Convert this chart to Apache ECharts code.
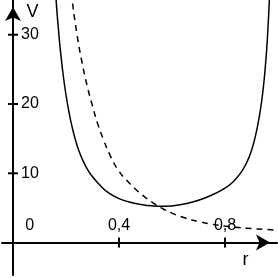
<!DOCTYPE html>
<html>
<head>
<meta charset="utf-8">
<script src="https://cdn.jsdelivr.net/npm/echarts@6/dist/echarts.min.js"></script>
<style>
  html, body { margin: 0; padding: 0; background: #fff; }
  #chart { width: 278px; height: 278px; }
</style>
</head>
<body>
<div id="chart"></div>
<script>
// ---- data ----
var rValues = [0.15, 0.16, 0.17, 0.18, 0.19, 0.20, 0.21, 0.22, 0.235, 0.25, 0.265, 0.28, 0.30, 0.33, 0.36, 0.40, 0.45, 0.50, 0.55, 0.60, 0.65, 0.70, 0.75, 0.80, 0.83, 0.86, 0.88, 0.90, 0.915, 0.93, 0.94, 0.95, 0.96, 0.97, 0.98];
var solidV  = [43.5, 36.5, 31.4, 27.3, 24.0, 21.3, 19.1, 17.2, 14.9, 13.1, 11.75, 10.65, 9.5, 8.2, 7.2, 6.35, 5.75, 5.4, 5.25, 5.3, 5.6, 6.1, 6.85, 7.85, 8.75, 10.1, 11.4, 13.3, 15.4, 18.3, 20.9, 24.4, 29.5, 37.5, 50];
var rDashed = [0.20, 0.21, 0.22, 0.24, 0.26, 0.28, 0.30, 0.32, 0.34, 0.37, 0.40, 0.43, 0.46, 0.50, 0.53, 0.56, 0.60, 0.65, 0.70, 0.75, 0.80, 0.85, 0.90, 0.95, 1.00];
var dashedV = [44, 39.5, 36.0, 30.4, 26.1, 22.6, 19.7, 17.1, 15.0, 12.3, 10.3, 8.95, 7.8, 6.5, 5.7, 5.0, 4.25, 3.55, 3.05, 2.66, 2.38, 2.17, 2.02, 1.9, 1.8];
var xTickValues = [0.4, 0.8];
var yTickValues = [10, 20, 30];
var xTickLabels = ['0,4', '0,8'];
var yTickLabels = ['10', '20', '30'];
var originLabel = '0';
var xName = 'r';
var yName = 'V';

function pairs(xs, ys) { return xs.map(function (x, i) { return [x, ys[i]]; }); }

var FONT = "'Liberation Sans', Arial, Helvetica, sans-serif";
var chart = echarts.init(document.getElementById('chart'), null, { renderer: 'canvas' });

// [x, y, kind(0 = x tick, 1 = y tick), label index]
var tickData = xTickValues.map(function (v, i) { return [v, 0, 0, i]; })
  .concat(yTickValues.map(function (v, i) { return [0, v, 1, i]; }));

chart.setOption({
  animation: false,
  backgroundColor: '#ffffff',
  grid: { left: 2, right: 1, top: 0, bottom: 3, containLabel: false },
  xAxis: {
    type: 'value', min: -0.04151, max: 0.99623,
    splitLine: { show: false },
    axisTick: { show: false },
    axisLabel: { show: false },
    axisLine: { show: true, onZero: true, symbol: ['none', 'arrow'], symbolSize: [12, 14], symbolOffset: [0, -7],
      lineStyle: { color: '#000', width: 2 } }
  },
  yAxis: {
    type: 'value', min: -4.675, max: 35.01,
    splitLine: { show: false },
    axisTick: { show: false },
    axisLabel: { show: false },
    axisLine: { show: true, onZero: true, symbol: ['none', 'arrow'], symbolSize: [12, 14], symbolOffset: [0, -7],
      lineStyle: { color: '#000', width: 2 } }
  },
  graphic: [
    { type: 'text', x: 29.7, y: 226, style: { text: originLabel, fill: '#000', font: '16px ' + FONT, align: 'center', verticalAlign: 'middle' } },
    { type: 'text', x: 32.5, y: 12, style: { text: yName, fill: '#000', font: '18px ' + FONT, align: 'center', verticalAlign: 'middle' } },
    { type: 'text', x: 245.5, y: 260, style: { text: xName, fill: '#000', font: '18px ' + FONT, align: 'center', verticalAlign: 'middle' } }
  ],
  series: [
    {
      type: 'line', data: pairs(rValues, solidV), smooth: 0.5, showSymbol: false, symbol: 'none',
      lineStyle: { color: '#000', width: 1.5 }, clip: true, z: 3
    },
    {
      type: 'line', data: pairs(rDashed, dashedV), smooth: 0.5, showSymbol: false, symbol: 'none',
      lineStyle: { color: '#000', width: 1.5, type: [6, 5] }, clip: true, z: 3
    },
    {
      type: 'custom', data: tickData, silent: true, z: 4, clip: false,
      renderItem: function (params, api) {
        var p = api.coord([api.value(0), api.value(1)]);
        var isX = api.value(2) === 0;
        var idx = api.value(3);
        var h = 5;
        var line = {
          type: 'line',
          shape: isX ? { x1: p[0], y1: p[1] - h, x2: p[0], y2: p[1] + h }
                     : { x1: p[0] - h, y1: p[1], x2: p[0] + h, y2: p[1] },
          style: { stroke: '#000', lineWidth: 2 }
        };
        var text = {
          type: 'text',
          x: isX ? p[0] : p[0] + 8,
          y: isX ? p[1] - 17 : p[1],
          style: {
            text: isX ? xTickLabels[idx] : yTickLabels[idx],
            fill: '#000', font: '16px ' + FONT,
            align: isX ? 'center' : 'left', verticalAlign: 'middle'
          }
        };
        return { type: 'group', children: [line, text] };
      }
    }
  ]
});
</script>
</body>
</html>
